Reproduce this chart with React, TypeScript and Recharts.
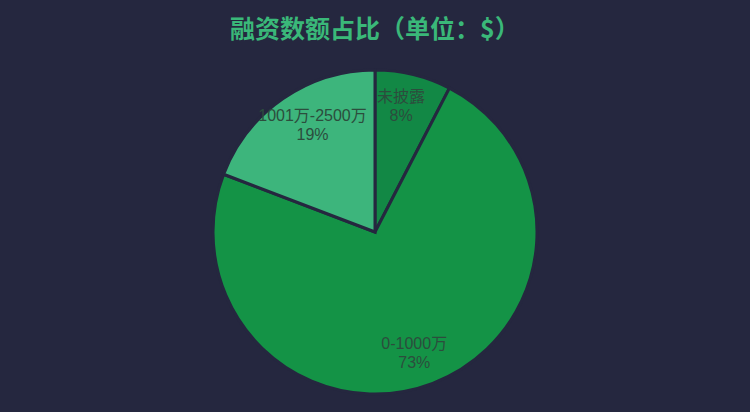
import { PieChart, Pie, Cell } from "recharts";

// slice data, clockwise from 12 o'clock
const categories = ["未披露", "0-1000万", "1001万-2500万"];
const shares = [7.6, 73.2, 19.2];
const sliceColors = ["#128845", "#149346", "#3db57c"];

const BG = "#25273f";
const RADIAN = Math.PI / 180;

const data = categories.map((name, i) => ({ name, value: shares[i] }));
const total = shares.reduce((s, v) => s + v, 0);

function renderLabel(props: any) {
  const { cx, cy, midAngle, outerRadius, name, value } = props;
  const r = outerRadius * 0.8;
  // labels sit a bit closer to the vertical axis than the mid-angle point
  const x = cx + r * Math.cos(-midAngle * RADIAN) * 0.85;
  const y = cy + r * Math.sin(-midAngle * RADIAN);
  const pct = Math.round((value / total) * 100);
  return (
    <g style={{ pointerEvents: "none" }}>
      <text
        x={x}
        y={y - 10}
        fill="#2c4d3d"
        textAnchor="middle"
        dominantBaseline="central"
        fontSize={16}
      >
        {name}
      </text>
      <text
        x={x}
        y={y + 9}
        fill="#2c4d3d"
        textAnchor="middle"
        dominantBaseline="central"
        fontSize={16}
      >
        {pct}%
      </text>
    </g>
  );
}

export default function App() {
  return (
    <div
      style={{
        position: "fixed",
        left: 0,
        top: 0,
        width: 750,
        height: 412,
        background: BG,
        fontFamily: '"Liberation Sans", "Noto Sans CJK SC", sans-serif',
      }}
    >
      <div
        style={{
          position: "absolute",
          top: 10,
          width: 750,
          textAlign: "center",
          color: "#3ab879",
          fontSize: 25,
          fontWeight: 700,
          lineHeight: "34px",
          fontFamily: '"Noto Sans CJK SC", sans-serif',
        }}
      >
        融资数额占比（单位：$）
      </div>
      <PieChart
        width={750}
        height={412}
        margin={{ top: 0, right: 0, bottom: 0, left: 0 }}
        style={{ position: "absolute", left: 0, top: 0 }}
      >
        <Pie
          data={data}
          dataKey="value"
          nameKey="name"
          cx={375}
          cy={232}
          outerRadius={162}
          startAngle={90}
          endAngle={-270}
          stroke={BG}
          strokeWidth={3}
          labelLine={false}
          label={renderLabel}
          isAnimationActive={false}
        >
          {data.map((entry, i) => (
            <Cell key={`cell-${entry.name}`} fill={sliceColors[i]} />
          ))}
        </Pie>
      </PieChart>
    </div>
  );
}
